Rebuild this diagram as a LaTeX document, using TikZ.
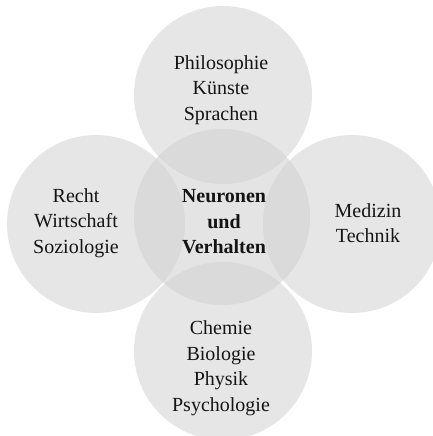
\documentclass[tikz,border=0pt]{standalone}
\usepackage{fontspec}
\setmainfont{Liberation Serif}
\definecolor{circfill}{HTML}{E6E6E6}
\definecolor{centfill}{HTML}{E4E4E4}
\definecolor{overfill}{HTML}{DADADA}
\definecolor{txt}{HTML}{141414}
\begin{document}
\begin{tikzpicture}[x=1pt,y=-1pt,
  lbl/.style={align=center,text=txt,font=\fontsize{20}{25.5}\selectfont,inner sep=0pt},
  blbl/.style={lbl,font=\fontsize{20}{25.5}\selectfont\bfseries}]
\useasboundingbox (0,0) rectangle (433,436);
\begin{scope}
\clip (0,0) rectangle (433,436);
% outer circles
\fill[circfill] (223,95) circle (89);
\fill[circfill] (96,224) circle (89);
\fill[circfill] (352,224) circle (89);
\fill[circfill] (223,351) circle (89);
% center circle
\fill[centfill] (222,217) circle (88);
% overlaps
\begin{scope}
\clip (222,217) circle (88);
\fill[overfill] (223,95) circle (89);
\fill[overfill] (96,224) circle (89);
\fill[overfill] (352,224) circle (89);
\fill[overfill] (223,351) circle (89);
\end{scope}
\end{scope}
% labels
\node[lbl] (top) at (221,90) {Philosophie\\Künste\\Sprachen};
\node[lbl] (left) at (76,223) {Recht\\Wirtschaft\\Soziologie};
\node[blbl] (center) at (224,222) {Neuronen\\und\\Verhalten};
\node[lbl] (right) at (368,223) {Medizin\\Technik};
\node[lbl] (bottom) at (221,368) {Chemie\\Biologie\\Physik\\Psychologie};
\end{tikzpicture}
\end{document}
